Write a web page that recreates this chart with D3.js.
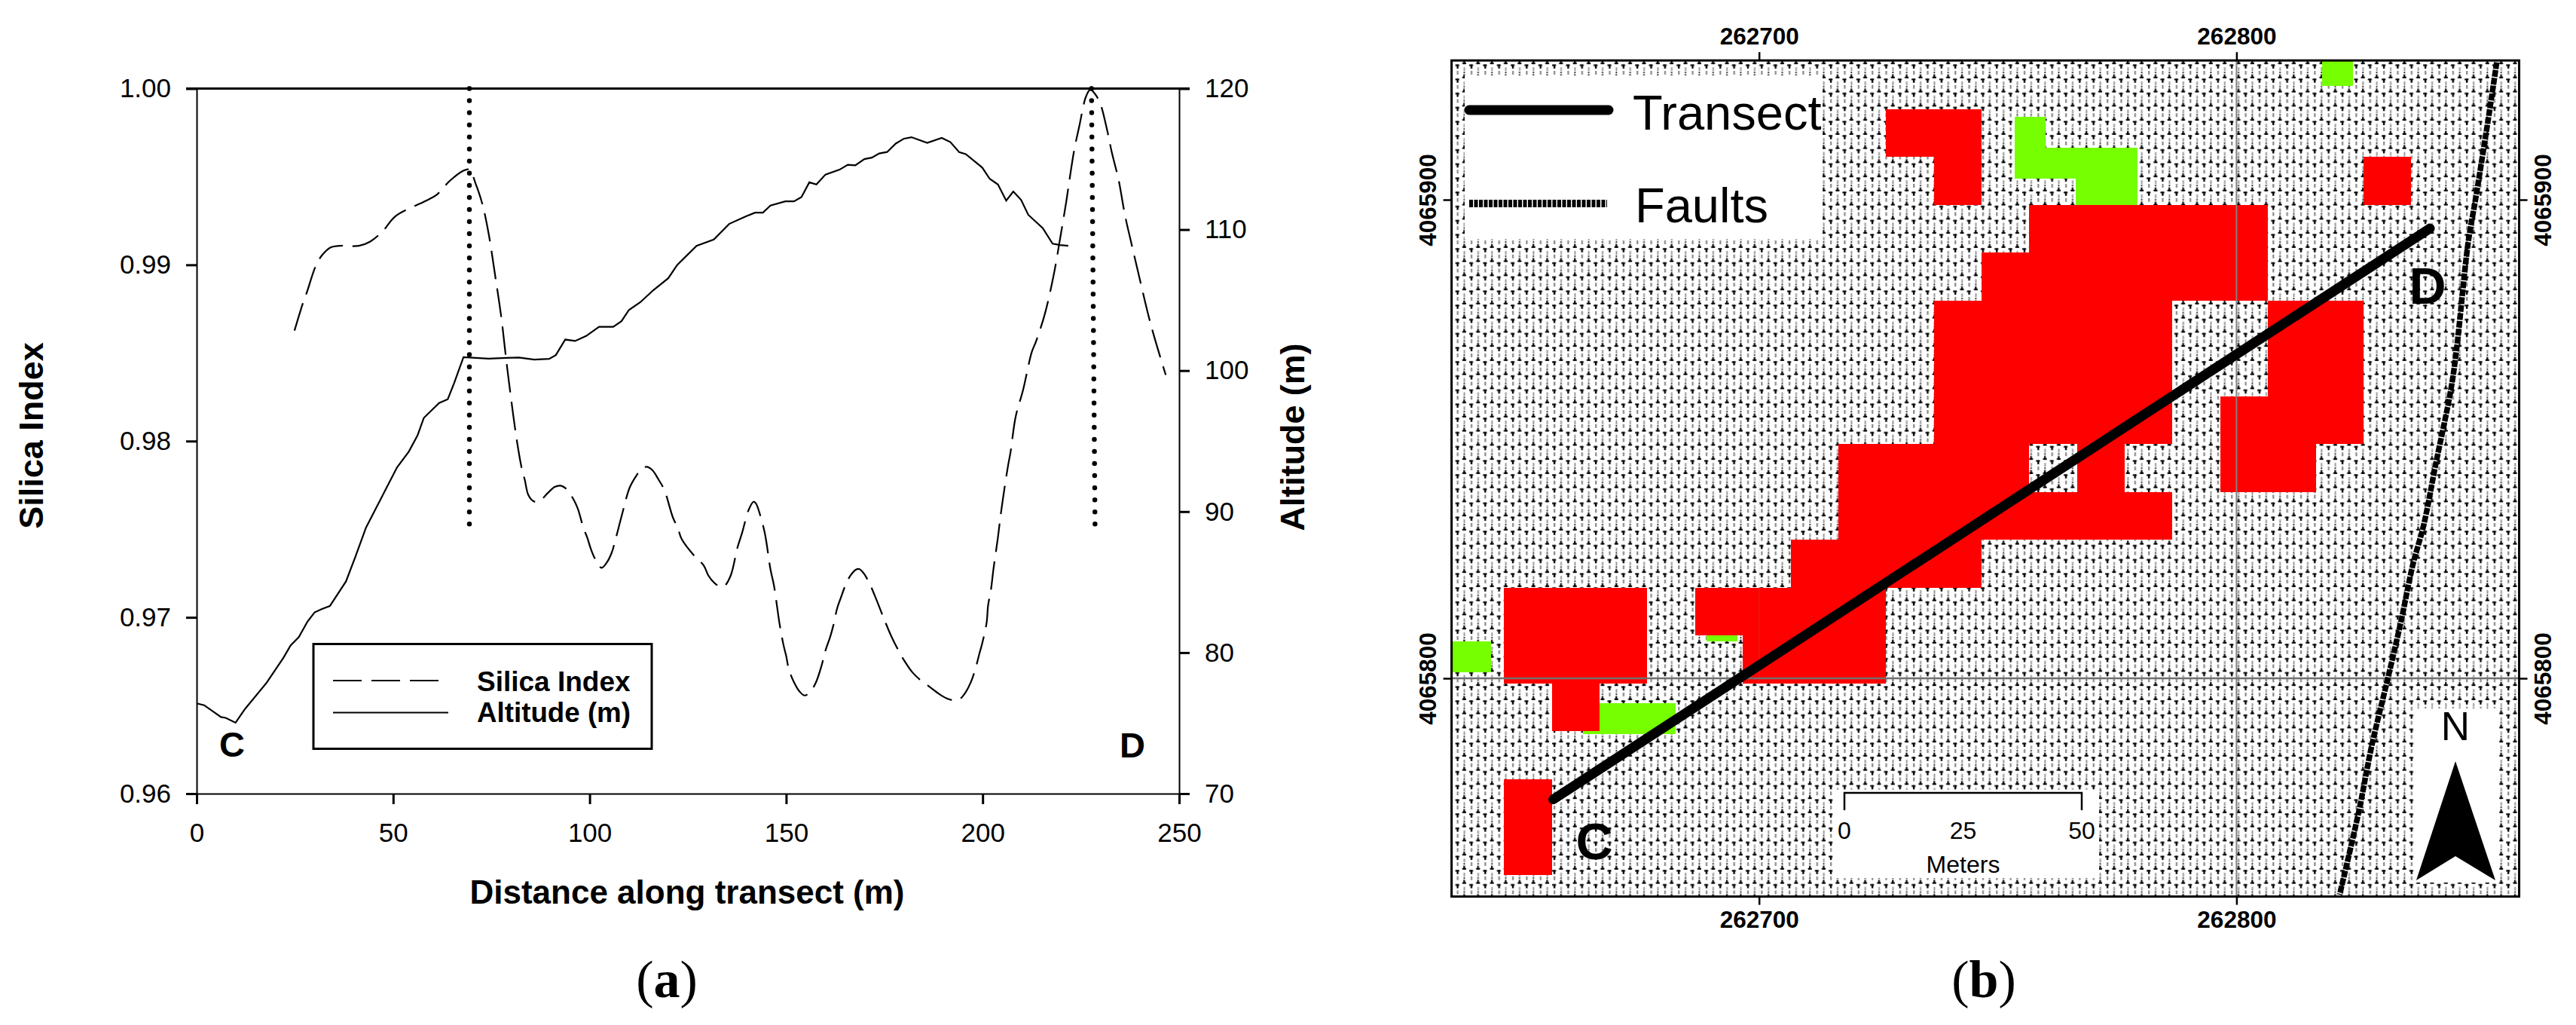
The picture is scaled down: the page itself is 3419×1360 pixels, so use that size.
<!DOCTYPE html>
<html><head><meta charset="utf-8">
<script src="https://cdn.jsdelivr.net/npm/d3@7"></script>
<style>html,body{margin:0;padding:0;background:#fff}svg{display:block}</style>
</head><body><svg id="c" width="3419" height="1360"></svg>
<script>
// ---------- panel (a) data ----------
const altDist = [0,1.9,6.2,7.4,9.9,12.3,17.8,22.1,23.9,26,28.2,30,31.9,33.9,38,40.4,43.1,51,54,56.2,57.8,61.7,63.9,65.5,67.9,74.3,78.7,82,85.9,89.7,91.4,93.8,96.3,99.1,102.4,106,108.1,110,112.9,116.2,120,122.3,127.2,131.6,135.5,139.9,142.1,144.1,146,149.8,152,153.9,155.9,157.7,160,163.6,165.7,167.6,169.9,171.8,173.7,175.7,177.9,180,181.9,185.9,189.6,191.8,194,195.7,199.9,201.8,203.9,206,207.8,209.8,211.6,215.3,217.8,219.7,221.8];
const altitude = [76.4,76.27,75.43,75.37,75.03,76,77.86,79.64,80.5,81.1,82.2,82.85,83.1,83.3,85.05,86.8,88.87,93.14,94.26,95.4,96.64,97.7,97.97,99.1,100.95,100.85,100.9,100.93,100.78,100.83,101.1,102.2,102.1,102.45,103.1,103.1,103.5,104.3,104.85,105.7,106.55,107.5,108.85,109.3,110.4,110.95,111.2,111.2,111.7,112,112,112.3,113.35,113.2,113.9,114.25,114.6,114.55,115,115.1,115.4,115.5,116.1,116.45,116.55,116.15,116.5,116.2,115.5,115.35,114.4,113.6,113.2,112.05,112.7,112.1,111.05,110.1,109,108.9,108.85];
const silDist = [24.9,27,28.1,30.3,32,34.2,36.4,41.3,44.1,47.4,50.6,58.3,61.1,64.4,67.7,69.4,71,72.7,74.3,75.9,77.6,78.7,79.8,81.5,82.8,83.5,84.4,85.7,87,89.6,91.1,92.6,94,95.8,97,98.4,99.4,100.2,101.4,103,104.3,105.6,106.7,108.2,110.2,111.8,113.3,114.6,116,117.5,119,121.2,122.4,123.4,126.5,129,130.2,131.7,133.2,134.3,135.9,137.6,138.8,140.5,141.7,142.3,143.4,144.4,144.9,146,146.9,147.7,148.3,149.3,150,150.7,152,153.5,154.7,156.1,157.6,159,160,161.2,162,163,163.9,165.2,166.4,167.7,168.6,169.8,171.3,172.8,174.2,175.2,176.7,178.6,180.1,182.1,184,186.2,188.9,190.9,192.8,194.2,195.7,197,198.2,199.2,199.9,201,201.4,202.1,202.8,203.8,204.6,205.5,206.5,207.1,208.4,210.3,212.5,213.6,215.8,218,219.7,221.3,221.9,223.3,224.6,226.3,227.4,228.5,229.9,231.6,232.9,234.6,236.2,237.9,240,242.3,244,246.6];
const silica = [.98627,.9878,.98848,.98993,.99057,.991,.99108,.99108,.99131,.99192,.99276,.99363,.99398,.99476,.99532,.9954,.9946,.99345,.99177,.98948,.98689,.98475,.98276,.98,.97837,.9778,.97694,.97659,.97656,.97711,.9774,.97747,.9773,.97673,.97616,.97509,.97452,.97395,.97331,.97281,.97309,.97366,.97452,.9758,.97737,.97801,.97844,.97854,.97834,.97783,.97723,.97566,.97509,.97445,.97352,.97295,.97238,.97196,.97174,.97178,.97238,.97395,.9748,.97612,.97656,.97647,.9758,.97495,.97438,.97274,.97181,.9706,.96967,.96846,.96782,.96705,.96632,.96577,.96557,.96577,.96632,.96725,.96811,.96889,.96953,.97053,.9711,.97188,.97238,.9727,.97274,.97248,.97188,.9711,.97031,.96975,.96896,.96811,.96753,.96689,.96647,.96611,.96566,.9654,.96529,.96537,.96576,.96632,.96711,.96796,.96853,.96967,.97069,.97154,.97282,.97438,.97582,.97723,.97865,.97937,.98138,.98291,.98505,.98566,.98719,.98933,.99147,.99361,.99452,.99651,.99787,.99955,.99994,.99972,.99917,.99772,.99635,.99482,.99284,.99117,.98917,.98703,.98566,.98375];
const markerLines = [[69.4,69.4],[227.7,228.6]];
const markerSilica = [1.0,0.9752];
const distTicks = [0,50,100,150,200,250];
const silicaTicks = [0.96,0.97,0.98,0.99,1.00];
const altitudeTicks = [70,80,90,100,110,120];

// ---------- panel (b) data (map coordinates, metres) ----------
const eastTicks = [262700,262800];
const northTicks = [4065800,4065900];
const frameEast = [262635.6,262859.2];
const frameNorth = [4065754.4,4065929.1];
const redEast0 = 262646.6, redNorth0 = 4065918.9, redCell = 10;
// [row, first column, last column]
const redRuns = [[0,8,9],[1,9,9],[1,18,18],[2,11,15],[3,10,15],[4,9,13],[4,16,17],[5,9,13],[5,16,17],[6,9,13],[6,15,17],[7,7,10],[7,12,12],[7,15,16],[8,7,13],[9,6,9],[10,0,2],[10,4,7],[11,0,2],[11,5,7],[12,1,1],[14,0,0],[15,0,0]];
const greenEast0 = 262753.5, greenNorth0 = 4065917.3, greenCell = 6.45;
// [row, first column, last column]
const greenRuns = [[-2,10,10],[0,0,0],[1,0,3],[2,2,3],[16,-10,-10],[17,-19,-18],[19,-14,-12]];
const transectEast = [262656.9,262840.5];
const transectNorth = [4065774.7,4065894.0];
const faultEast = [262854.5,262853,262850.1,262848.5,262846.1,262844.9,262841.7,262839.2,262836.9,262834.5,262831.7,262828.3,262825.6,262821.6];
const faultNorth = [4065928.7,4065918.6,4065900.3,4065890.9,4065868.8,4065860.3,4065844.6,4065832,4065823.6,4065812.1,4065800,4065785.8,4065772.1,4065754.8];
const scaleTicks = [0,25,50];

const SANS = '"Liberation Sans", Arial, sans-serif';
const SERIF = '"Liberation Serif", "Times New Roman", serif';
const svg = d3.select('#c');
const defs = svg.append('defs');
function text(g,x,y,s,size,o={}){
  const t=g.append('text').attr('x',x).attr('y',y).text(s)
    .attr('font-family',o.family||SANS).attr('font-size',size)
    .attr('font-weight',o.weight||'normal').attr('text-anchor',o.anchor||'start').attr('fill','#000');
  if(o.length) t.attr('textLength',o.length).attr('lengthAdjust','spacingAndGlyphs');
  return t;
}

// ========== Panel (a) ==========
const xD = d3.scaleLinear().domain([0,250]).range([261,1565]);
const yS = d3.scaleLinear().domain([0.96,1.0]).range([1053,117.5]);
const yA = d3.scaleLinear().domain([70,120]).range([1053,117.5]);
const a = svg.append('g');
function styleAxis(g,w){
  g.attr('font-family',SANS).attr('font-size',35);
  g.selectAll('path.domain').attr('stroke','#000').attr('stroke-width',w);
  g.selectAll('.tick line').attr('stroke','#000').attr('stroke-width',3);
  g.selectAll('.tick text').attr('fill','#000');
}
styleAxis(a.append('g').attr('transform','translate(261,0)')
  .call(d3.axisLeft(yS).tickValues(silicaTicks).tickFormat(d3.format('.2f')).tickSize(14).tickSizeOuter(0).tickPadding(20)),2);
styleAxis(a.append('g').attr('transform','translate(1565,0)')
  .call(d3.axisRight(yA).tickValues(altitudeTicks).tickFormat(d3.format('d')).tickSize(14).tickSizeOuter(0).tickPadding(20)),2);
styleAxis(a.append('g').attr('transform','translate(0,1053)')
  .call(d3.axisBottom(xD).tickValues(distTicks).tickFormat(d3.format('d')).tickSize(14).tickSizeOuter(0).tickPadding(25)),2);
a.append('line').attr('x1',247).attr('x2',1579).attr('y1',yS(1)).attr('y2',yS(1)).attr('stroke','#000').attr('stroke-width',3);

a.append('path').attr('fill','none').attr('stroke','#000').attr('stroke-width',2.2).attr('stroke-dasharray','38 12.5')
  .attr('d',d3.line().x((d,i)=>xD(silDist[i])).y(d=>yS(d)).curve(d3.curveCatmullRom.alpha(0.5))(silica));
a.append('path').attr('fill','none').attr('stroke','#000').attr('stroke-width',2.2)
  .attr('d',d3.line().x((d,i)=>xD(altDist[i])).y(d=>yA(d))(altitude));
markerLines.forEach(m=>{
  a.append('path').attr('fill','none').attr('stroke','#000').attr('stroke-width',6.5)
   .attr('stroke-linecap','round').attr('stroke-dasharray','0 16.05')
   .attr('d',d3.line().x((d,i)=>xD(m[i])).y(d=>yS(d))(markerSilica));
});
text(a,-578,57,'Silica Index',45,{weight:'bold',anchor:'middle'}).attr('transform','rotate(-90)');
text(a,-580,1731,'Altitude (m)',45,{weight:'bold',anchor:'middle',length:249}).attr('transform','rotate(-90)');
text(a,912,1198.7,'Distance along transect (m)',44,{weight:'bold',anchor:'middle'});
text(a,308,1004,'C',47,{weight:'bold',anchor:'middle'});
text(a,1503,1005,'D',47,{weight:'bold',anchor:'middle'});
// legend
a.append('rect').attr('x',416).attr('y',854.5).attr('width',449).attr('height',139).attr('fill','#fff').attr('stroke','#000').attr('stroke-width',3);
a.append('line').attr('x1',442).attr('x2',582).attr('y1',903).attr('y2',903).attr('stroke','#000').attr('stroke-width',2.2).attr('stroke-dasharray','38 13');
a.append('line').attr('x1',442).attr('x2',595).attr('y1',945.5).attr('y2',945.5).attr('stroke','#000').attr('stroke-width',2.2);
text(a,633,916.7,'Silica Index',37,{weight:'bold'});
text(a,633,957.6,'Altitude (m)',37,{weight:'bold',length:204});
svg.append('text').attr('x',885).attr('y',1323).attr('text-anchor','middle').attr('font-family',SERIF).attr('font-size',70)
  .html('(<tspan font-weight="bold">a</tspan>)');

// ========== Panel (b) ==========
const xM = d3.scaleLinear().domain([262700,262800]).range([2334.7,2968.4]);
const yM = d3.scaleLinear().domain([4065800,4065900]).range([900,265]);
const fx0=xM(frameEast[0]), fx1=xM(frameEast[1]), fy0=yM(frameNorth[1]), fy1=yM(frameNorth[0]);

// stipple fill
const pat = defs.append('pattern').attr('id','stipple').attr('patternUnits','userSpaceOnUse')
  .attr('width',18.35).attr('height',18.75).attr('x',fx0+4).attr('y',fy0+2);
[[1,3.4,5.2,2,'#000'],[2.8,3.4,2.4,5.4,'#000'],[10.2,0.8,5.2,2,'#000'],[11.6,-0.4,2.4,3.4,'#000'],
 [11.6,16.4,2.4,2.4,'#222'],[3,11.8,2.2,5,'#888'],[12,7,2,5,'#999'],[12,13,1.8,2,'#222']].forEach(r=>{
  pat.append('rect').attr('x',r[0]).attr('y',r[1]).attr('width',r[2]).attr('height',r[3]).attr('fill',r[4]);
});
defs.append('clipPath').attr('id','mapclip').append('rect').attr('x',fx0).attr('y',fy0).attr('width',fx1-fx0).attr('height',fy1-fy0);

const b = svg.append('g');
const m = b.append('g').attr('clip-path','url(#mapclip)');
m.append('rect').attr('x',fx0).attr('y',fy0).attr('width',fx1-fx0).attr('height',fy1-fy0).attr('fill','url(#stipple)');
function runs(arr,e0,n0,size,fill){
  m.append('g').selectAll('rect').data(arr).join('rect')
   .attr('x',d=>xM(e0+d[1]*size))
   .attr('y',d=>yM(n0-d[0]*size))
   .attr('width',d=>xM(e0+(d[2]+1)*size)-xM(e0+d[1]*size))
   .attr('height',d=>yM(n0-(d[0]+1)*size)-yM(n0-d[0]*size))
   .attr('fill',fill).attr('shape-rendering','crispEdges');
}
runs(greenRuns,greenEast0,greenNorth0,greenCell,'#76ff00');
runs(redRuns,redEast0,redNorth0,redCell,'#ff0000');

// grid lines
m.append('line').attr('x1',xM(262800)).attr('x2',xM(262800)).attr('y1',fy0).attr('y2',fy1).attr('stroke','#808080').attr('stroke-width',2);
m.append('line').attr('x1',fx0).attr('x2',fx1).attr('y1',yM(4065800)).attr('y2',yM(4065800)).attr('stroke','#707070').attr('stroke-width',2.5);
m.append('line').attr('x1',xM(262700)).attr('x2',xM(262700)).attr('y1',fy0).attr('y2',fy1).attr('stroke','#808080').attr('stroke-opacity',0.12).attr('stroke-width',2);

// fault
m.append('path').attr('fill','none').attr('stroke','#000').attr('stroke-width',7.5).attr('stroke-dasharray','9 1.5')
 .attr('d',d3.line().x((d,i)=>xM(faultEast[i])).y(d=>yM(d)).curve(d3.curveCatmullRom)(faultNorth));
// transect
m.append('line').attr('x1',xM(transectEast[0])).attr('y1',yM(transectNorth[0])).attr('x2',xM(transectEast[1])).attr('y2',yM(transectNorth[1]))
 .attr('stroke','#000').attr('stroke-width',13).attr('stroke-linecap','round');
text(m,2116,1140,'C',68,{weight:'bold',anchor:'middle'});
text(m,3222,403,'D',68,{weight:'bold',anchor:'middle'});

// map legend
m.append('rect').attr('x',1944).attr('y',100).attr('width',475).attr('height',217).attr('fill','#fff');
m.append('line').attr('x1',1950).attr('x2',2135).attr('y1',146).attr('y2',146).attr('stroke','#000').attr('stroke-width',13).attr('stroke-linecap','round');
m.append('line').attr('x1',1950).attr('x2',2133).attr('y1',270).attr('y2',270).attr('stroke','#000').attr('stroke-width',10).attr('stroke-dasharray','5 1.5');
text(m,2167,172,'Transect',65);
text(m,2170,295,'Faults',65);

// scale bar
const sb = d3.scaleLinear().domain([0,50]).range([2448,2763]);
m.append('rect').attr('x',2434).attr('y',1048).attr('width',352).attr('height',117).attr('fill','#fff');
m.append('path').attr('fill','none').attr('stroke','#000').attr('stroke-width',2.5)
 .attr('d',`M${sb(0)},1075V1052H${sb(50)}V1075`);
scaleTicks.forEach(t=>text(m,sb(t),1113,String(t),32,{anchor:'middle'}));
text(m,sb(25),1158,'Meters',32,{anchor:'middle'});

// north arrow
m.append('rect').attr('x',3204.6).attr('y',940).attr('width',112.4).attr('height',231).attr('fill','#fff');
text(m,3259,982,'N',53,{anchor:'middle'});
m.append('path').attr('fill','#000').attr('d','M3259,1010L3312,1168L3259,1136L3207,1168Z');

// frame and map axes
b.append('rect').attr('x',fx0).attr('y',fy0).attr('width',fx1-fx0).attr('height',fy1-fy0).attr('fill','none').attr('stroke','#000').attr('stroke-width',3);
const fmtD = d3.format('d');
function styleMap(g){
  g.attr('font-family',SANS).attr('font-size',31.5).attr('font-weight','bold');
  g.selectAll('path.domain').remove();
  g.selectAll('.tick line').attr('stroke','#000').attr('stroke-width',2.5);
  g.selectAll('.tick text').attr('fill','#000');
  return g;
}
styleMap(b.append('g').attr('transform',`translate(0,${fy0})`).call(d3.axisTop(xM).tickValues(eastTicks).tickFormat(fmtD).tickSize(11).tickPadding(10)));
styleMap(b.append('g').attr('transform',`translate(0,${fy1})`).call(d3.axisBottom(xM).tickValues(eastTicks).tickFormat(fmtD).tickSize(11).tickPadding(8)));
styleMap(b.append('g').attr('transform',`translate(${fx0},0)`).call(d3.axisLeft(yM).tickValues(northTicks).tickFormat(fmtD).tickSize(11)))
 .selectAll('.tick text').attr('x',null).attr('dy',null).attr('text-anchor','middle').attr('transform','translate(-20.5,0) rotate(-90)');
styleMap(b.append('g').attr('transform',`translate(${fx1},0)`).call(d3.axisRight(yM).tickValues(northTicks).tickFormat(fmtD).tickSize(11)))
 .selectAll('.tick text').attr('x',null).attr('dy',null).attr('text-anchor','middle').attr('transform','translate(42.6,0) rotate(-90)');

svg.append('text').attr('x',2633).attr('y',1323).attr('text-anchor','middle').attr('font-family',SERIF).attr('font-size',70)
  .html('(<tspan font-weight="bold">b</tspan>)');
</script></body></html>
